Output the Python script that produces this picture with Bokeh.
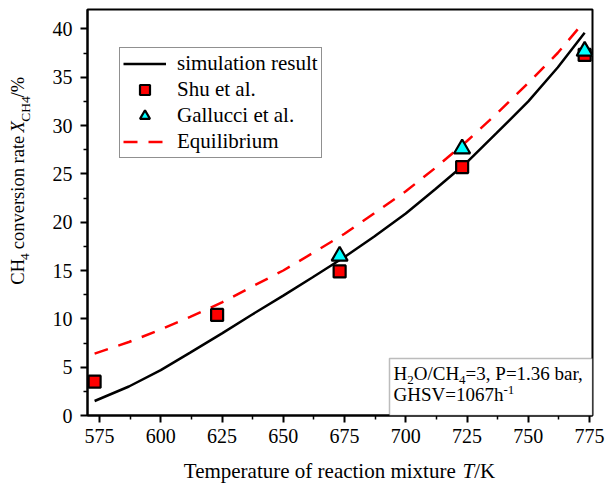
import math
from bokeh.plotting import figure
from bokeh.layouts import column, row
from bokeh.models import (Range1d, FixedTicker, Label, Legend, LegendItem, BoxAnnotation)
from bokeh.embed import file_html
from bokeh.resources import INLINE

# ---------------- data ----------------
sim_T = [573, 587, 600, 612, 625, 637, 650, 662, 675, 687, 700, 712, 725, 737, 750, 762, 773]
sim_X = [1.5, 3.0, 4.7, 6.5, 8.5, 10.4, 12.4, 14.3, 16.4, 18.5, 20.9, 23.4, 26.2, 29.2, 32.5, 36.0, 39.6]

eq_T = [573, 587, 600, 612, 625, 637, 650, 662, 675, 687, 700, 712, 725, 737, 750, 762, 773]
eq_X = [6.4, 7.6, 8.9, 10.2, 11.7, 13.3, 15.0, 16.8, 18.8, 20.9, 23.2, 25.6, 28.4, 31.2, 34.4, 37.5, 40.8]

shu_T = [573, 623, 673, 723, 773]
shu_X = [3.5, 10.4, 14.9, 25.7, 37.3]

gal_T = [673, 723, 773]
gal_X = [16.5, 27.6, 37.7]

x_ticks = [575, 600, 625, 650, 675, 700, 725, 750, 775]
x_minor = [587.5, 612.5, 637.5, 662.5, 687.5, 712.5, 737.5, 762.5]
y_ticks = [0, 5, 10, 15, 20, 25, 30, 35, 40]
y_minor = [2.5, 7.5, 12.5, 17.5, 22.5, 27.5, 32.5, 37.5]

legend_labels = ["simulation result", "Shu et al.", "Gallucci et al.", "Equilibrium"]

# ---------------- layout (global page pixels) ----------------
W, H = 606, 485
YLAB_W = 40
XLAB_H = 35
MAIN_W, MAIN_H = W - YLAB_W, H - XLAB_H
FL, FR, FT, FB = 87, 592, 9, 415
X0, X1 = 570.1, 776.2
Y0, Y1 = 0.0, 42.0
FONT = "'Liberation Serif', 'Times New Roman', serif"
BASE_CORR = 0.39     # renderer places 'alphabetic' text this many em too low
ROT_STRETCH = 1.06   # rotated text renders slightly longer than its metrics


def dx(px):
    return X0 + (px - FL) * (X1 - X0) / (FR - FL)


def dy(py):
    return Y0 + (FB - py) * (Y1 - Y0) / (FB - FT)


p = figure(width=MAIN_W, height=MAIN_H, output_backend="svg", toolbar_location=None,
           x_range=Range1d(X0, X1), y_range=Range1d(Y0, Y1),
           min_border_left=FL - YLAB_W, min_border_right=W - FR,
           min_border_top=FT, min_border_bottom=MAIN_H - FB)
p.xgrid.visible = False
p.ygrid.visible = False
p.background_fill_color = "white"
p.border_fill_color = "white"
p.outline_line_color = "black"
p.outline_line_width = 2

p.xaxis.ticker = FixedTicker(ticks=x_ticks, minor_ticks=x_minor)
p.yaxis.ticker = FixedTicker(ticks=y_ticks, minor_ticks=y_minor)
for ax in (p.xaxis[0], p.yaxis[0]):
    ax.axis_line_width = 2
    ax.axis_line_color = "black"
    ax.major_tick_line_width = 2
    ax.minor_tick_line_width = 1.5
    ax.major_tick_line_color = "black"
    ax.minor_tick_line_color = "black"
    ax.major_tick_out = 7
    ax.major_tick_in = 0
    ax.minor_tick_out = 4
    ax.minor_tick_in = 0
    ax.major_label_text_font = FONT
    ax.major_label_text_font_size = "20px"
    ax.major_label_text_color = "black"
p.xaxis.major_label_standoff = 6
p.yaxis.major_label_standoff = 8

# ---------------- glyphs ----------------
r_sim = p.line(sim_T, sim_X, line_color="black", line_width=2.5)
r_eq = p.line(eq_T, eq_X, line_color="#ff0000", line_width=2.5, line_dash="14 11")
r_shu = p.scatter(shu_T, shu_X, marker="square", size=12, fill_color="#ff0000",
                  line_color="black", line_width=2.2)
r_gal = p.scatter(gal_T, gal_X, marker="triangle", size=16, fill_color="#00ffff",
                  line_color="black", line_width=2.2)

legend = Legend(items=[LegendItem(label=legend_labels[0], renderers=[r_sim]),
                       LegendItem(label=legend_labels[1], renderers=[r_shu]),
                       LegendItem(label=legend_labels[2], renderers=[r_gal]),
                       LegendItem(label=legend_labels[3], renderers=[r_eq])],
                location=(119 - FL, FB - 158), margin=0, padding=3, spacing=1,
                glyph_width=43, glyph_height=25, label_height=25, label_standoff=11,
                label_text_font=FONT, label_text_font_size="21px",
                label_text_color="black",
                border_line_color="#222222", border_line_width=1.5,
                background_fill_color="white", background_fill_alpha=1.0)
p.add_layout(legend)

# annotation box
p.add_layout(BoxAnnotation(left=dx(389), right=X1, bottom=Y0, top=dy(358),
                           fill_color="white", fill_alpha=1.0,
                           line_color="#222222", line_width=1.5, level="overlay"))

# ---------------- rich text helper ----------------
REG = {' ': 250, '%': 833, ',': 250, '.': 250, '/': 278, '=': 564, '-': 333,
       'A': 722, 'C': 667, 'G': 722, 'H': 722, 'K': 722, 'O': 722, 'P': 556,
       'S': 556, 'T': 611, 'V': 722, 'X': 722,
       'a': 444, 'b': 500, 'c': 444, 'e': 444, 'f': 333, 'h': 500, 'i': 278,
       'l': 278, 'm': 778, 'n': 500, 'o': 500, 'p': 500, 'r': 333, 's': 389,
       't': 278, 'u': 500, 'v': 500, 'x': 500}
ITA = {'T': 556, 'X': 611}


def twidth(text, size, italic=False):
    tab = ITA if italic else {}
    return sum(tab.get(c, REG.get(c, 500)) for c in text) * size / 1000.0


def rich(fig, segments, start, base, fx, fy, rotated=False):
    """segments: (text, size, italic, shift, gap); shift>0 moves down (subscript),
    gap adds extra pixels before the segment.
    start/base in page pixels; fx, fy map page pixels to the figure's data."""
    k = ROT_STRETCH if rotated else 1.0
    cur = start
    for text, size, italic, shift, gap in segments:
        body = text.strip(" ")
        lead = twidth(text[:len(text) - len(text.lstrip(" "))], size) * k
        cur += -(lead + gap) if rotated else (lead + gap)
        off = base + shift - BASE_CORR * size
        if rotated:
            lab = Label(x=fx(off), y=fy(cur), text=body, angle=math.pi / 2,
                        text_align="left", text_baseline="alphabetic")
        else:
            lab = Label(x=fx(cur), y=fy(off), text=body,
                        text_align="left", text_baseline="alphabetic")
        rest = twidth(text, size, italic) * k - lead
        cur += -rest if rotated else rest
        lab.text_font = FONT
        lab.text_font_size = f"{size}px"
        lab.text_font_style = "italic" if italic else "normal"
        lab.text_color = "black"
        lab.level = "overlay"
        fig.add_layout(lab)


def strip(w, h):
    f = figure(width=w, height=h, output_backend="svg", toolbar_location=None,
               x_range=Range1d(0, w), y_range=Range1d(0, h),
               x_axis_location=None, y_axis_location=None, min_border=0)
    f.xgrid.visible = False
    f.ygrid.visible = False
    f.outline_line_color = None
    f.background_fill_color = "white"
    f.border_fill_color = "white"
    return f


ylab = strip(YLAB_W, MAIN_H)
yseg = [("CH", 18.5, False, 0, 0), ("4", 13.5, False, 5, 0),
        (" conversion rate ", 18.5, False, 0, 0),
        ("X", 18.5, True, 0, 4), ("CH4", 13.5, False, 5, 0), ("/%", 18.5, False, 0, 0)]
rich(ylab, yseg, 305, 25, lambda px: px, lambda py: MAIN_H - py, rotated=True)

xlab = strip(W, XLAB_H)
xseg = [("Temperature of reaction mixture ", 21, False, 0, 0), ("T", 21, True, 0, 0),
        ("/K", 21, False, 0, 0)]
xw = sum(twidth(t, s, i) for t, s, i, _, _ in xseg)
rich(xlab, xseg, 339 - xw / 2, 479, lambda px: px, lambda py: H - py)

rich(p, [("H", 19, False, 0, 0), ("2", 13, False, 5, 0), ("O/CH", 19, False, 0, 0),
         ("4", 13, False, 5, 0), ("=3, P=1.36 bar,", 19, False, 0, 0)], 393, 380, dx, dy)
rich(p, [("GHSV=1067h", 19, False, 0, 0), ("-1", 13, False, -7, 0)], 393, 401.5, dx, dy)

layout = column(row(ylab, p, spacing=0), xlab, spacing=0)
open("out.html", "w").write(file_html(layout, INLINE))
